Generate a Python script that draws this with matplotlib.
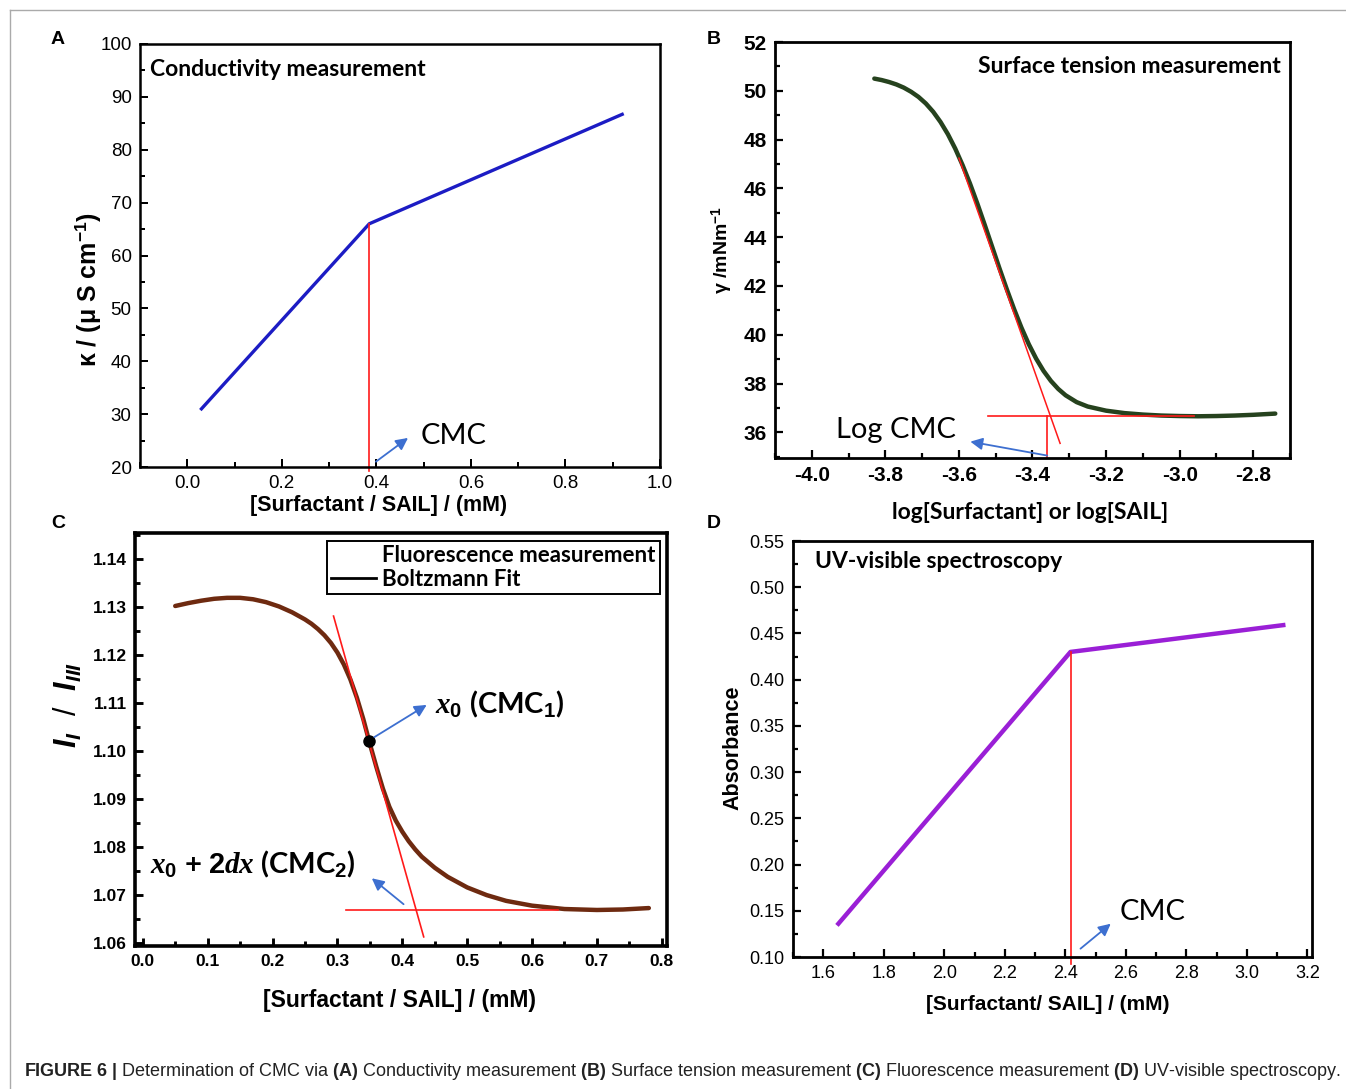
import matplotlib
matplotlib.use('Agg')
import matplotlib.pyplot as plt
from matplotlib.lines import Line2D
from matplotlib.ticker import MultipleLocator

plt.rcParams['font.family'] = ['Liberation Sans', 'DejaVu Sans']
plt.rcParams['axes.unicode_minus'] = False
plt.rcParams['mathtext.fontset'] = 'custom'
plt.rcParams['mathtext.rm'] = 'Liberation Sans:bold'
plt.rcParams['mathtext.bf'] = 'Liberation Sans:bold'
plt.rcParams['mathtext.it'] = 'Liberation Serif:italic:bold'
plt.rcParams['mathtext.sf'] = 'Liberation Sans:italic:bold'

# ---- data ----
# (A) conductivity
cond_conc = [0.03, 0.385, 0.92]
cond_kappa = [31.0, 66.0, 86.7]
cond_cmc = 0.385

# (B) surface tension
st_logc = [-3.83, -3.81, -3.79, -3.77, -3.75, -3.73, -3.71, -3.69, -3.67, -3.65,
           -3.63, -3.61, -3.59, -3.57, -3.55, -3.53, -3.51, -3.49, -3.47, -3.45,
           -3.43, -3.41, -3.39, -3.37, -3.35, -3.33, -3.31, -3.28, -3.25, -3.20,
           -3.15, -3.10, -3.05, -3.00, -2.95, -2.90, -2.85, -2.80, -2.74]
st_gamma = [50.50, 50.44, 50.36, 50.26, 50.13, 49.96, 49.75, 49.48, 49.14, 48.72,
            48.22, 47.63, 46.95, 46.20, 45.38, 44.51, 43.62, 42.73, 41.87, 41.05,
            40.29, 39.61, 39.02, 38.52, 38.11, 37.78, 37.52, 37.24, 37.06, 36.89,
            36.79, 36.73, 36.69, 36.67, 36.66, 36.67, 36.69, 36.72, 36.77]
st_tangent_x = [-3.60, -3.325]
st_tangent_y = [47.24, 35.55]
st_base_x = [-3.52, -2.96]
st_base_y = [36.67, 36.67]
st_logcmc = -3.36

# (C) fluorescence, I1/I3 with Boltzmann fit
fl_conc = [0.05, 0.07, 0.09, 0.11, 0.13, 0.15, 0.17, 0.19, 0.21, 0.23,
           0.25, 0.26, 0.27, 0.28, 0.29, 0.30, 0.31, 0.32, 0.33, 0.34,
           0.35, 0.36, 0.37, 0.38, 0.39, 0.40, 0.41, 0.42, 0.43, 0.45,
           0.47, 0.50, 0.53, 0.56, 0.60, 0.65, 0.70, 0.74, 0.78]
fl_ratio = [1.1302, 1.1308, 1.1313, 1.1317, 1.1319, 1.1319, 1.1316, 1.1310, 1.1301, 1.1289,
            1.1274, 1.1265, 1.1254, 1.1241, 1.1225, 1.1205, 1.1180, 1.1149, 1.1111, 1.1066,
            1.1015, 1.0967, 1.0922, 1.0884, 1.0855, 1.0832, 1.0812, 1.0795, 1.0780, 1.0757,
            1.0738, 1.0716, 1.0700, 1.0688, 1.0678, 1.0671, 1.0669, 1.0670, 1.0673]
fl_tangent_x = [0.294, 0.433]
fl_tangent_y = [1.1281, 1.0613]
fl_base_x = [0.313, 0.64]
fl_base_y = [1.0669, 1.0669]
fl_x0 = 0.348
fl_x0_ratio = 1.1020

# (D) UV-vis absorbance
uv_conc = [1.65, 2.417, 3.12]
uv_abs = [0.136, 0.430, 0.459]
uv_cmc = 2.417

RED = '#ff1a1a'
ARROW = '#3d6fd0'
W, H = 1346, 1089

fig = plt.figure(figsize=(W / 100, H / 100), dpi=100)


def px_axes(l, t, r, b):
    return fig.add_axes([l / W, 1 - b / H, (r - l) / W, (b - t) / H])


def style(ax, spine_w, tsize, tweight):
    for s in ax.spines.values():
        s.set_linewidth(spine_w)
    ax.tick_params(which='both', direction='in', top=False, right=False,
                   width=spine_w * 0.8, labelsize=tsize, pad=6)
    ax.tick_params(which='major', length=6)
    ax.tick_params(which='minor', length=3.5)
    for lab in ax.get_xticklabels() + ax.get_yticklabels():
        lab.set_fontweight(tweight)


def place_labels(ax, xpos, ypos):
    # label centres given in axes fraction
    ax.xaxis.set_label_coords(*xpos)
    ax.yaxis.set_label_coords(*ypos)
    ax.xaxis.label.set_va('center')
    ax.yaxis.label.set_va('center')


def arrow(ax, tail, head):
    ax.annotate('', xy=head, xytext=tail,
                arrowprops=dict(arrowstyle='-|>', color=ARROW, lw=1.3,
                                mutation_scale=18, shrinkA=0, shrinkB=0))


# ---------------- A ----------------
axA = px_axes(140, 44, 660, 467)
axA.plot(cond_conc, cond_kappa, color='#1c1cc4', lw=2.4)
axA.plot([cond_cmc, cond_cmc], [19.3, cond_kappa[1]], color=RED, lw=1.2, clip_on=False)
axA.set_xlim(-0.1, 1.0)
axA.set_ylim(20, 100)
axA.xaxis.set_major_locator(MultipleLocator(0.2))
axA.xaxis.set_minor_locator(MultipleLocator(0.1))
axA.yaxis.set_major_locator(MultipleLocator(10))
axA.yaxis.set_minor_locator(MultipleLocator(5))
axA.set_xticks([0.0, 0.2, 0.4, 0.6, 0.8, 1.0])
style(axA, 1.8, 13.5, 'normal')
arrow(axA, (0.399, 21.0), (0.467, 25.5))
axA.text(0.494, 25.9, 'CMC', fontfamily='Lato', fontsize=21, va='center')
axA.text(0.02, 0.94, 'Conductivity measurement', transform=axA.transAxes,
         fontfamily='Lato', fontweight='bold', fontsize=16.5, va='center')
axA.set_xlabel('[Surfactant / SAIL] / (mM)', fontsize=15.5, fontweight='bold')
axA.set_ylabel('κ / (μ S cm$^{-1}$)', fontsize=18, fontweight='bold')
place_labels(axA, (0.458, -0.092), (-0.10, 0.42))

# ---------------- B ----------------
axB = px_axes(775, 42, 1290, 458)
axB.plot(st_logc, st_gamma, color='#26421e', lw=3.2, solid_capstyle='round')
axB.plot(st_tangent_x, st_tangent_y, color=RED, lw=1.1)
axB.plot(st_base_x, st_base_y, color=RED, lw=1.2)
axB.plot([st_logcmc, st_logcmc], [35.0, st_base_y[0]], color=RED, lw=1.2)
axB.set_xlim(-4.1, -2.7)
axB.set_ylim(34.95, 52)
axB.xaxis.set_major_locator(MultipleLocator(0.2))
axB.xaxis.set_minor_locator(MultipleLocator(0.1))
axB.yaxis.set_major_locator(MultipleLocator(2))
axB.yaxis.set_minor_locator(MultipleLocator(1))
axB.set_xticks([-4.0, -3.8, -3.6, -3.4, -3.2, -3.0, -2.8])
axB.set_yticks([36, 38, 40, 42, 44, 46, 48, 50, 52])
style(axB, 2.0, 15, 'bold')
arrow(axB, (-3.36, 35.05), (-3.569, 35.62))
axB.text(-3.935, 36.1, 'Log CMC', fontfamily='Lato', fontsize=21, va='center')
axB.text(0.982, 0.94, 'Surface tension measurement', transform=axB.transAxes,
         fontfamily='Lato', fontweight='bold', fontsize=16.5, va='center', ha='right')
axB.set_xlabel('log[Surfactant] or log[SAIL]', fontfamily='Lato', fontsize=16.5, fontweight='bold')
axB.set_ylabel('γ /mNm$^{-1}$', fontsize=14, fontweight='bold')
place_labels(axB, (0.495, -0.13), (-0.103, 0.5))

# ---------------- C ----------------
axC = px_axes(135, 533, 667, 946)
axC.plot(fl_conc, fl_ratio, color='#6e2a10', lw=3.2, solid_capstyle='round')
axC.plot(fl_tangent_x, fl_tangent_y, color=RED, lw=1.2)
axC.plot(fl_base_x, fl_base_y, color=RED, lw=1.2)
axC.plot([fl_x0], [fl_x0_ratio], 'o', color='black', ms=8)
axC.set_xlim(-0.012, 0.808)
axC.set_ylim(1.0594, 1.1454)
axC.xaxis.set_major_locator(MultipleLocator(0.1))
axC.xaxis.set_minor_locator(MultipleLocator(0.05))
axC.yaxis.set_major_locator(MultipleLocator(0.01))
axC.yaxis.set_minor_locator(MultipleLocator(0.005))
axC.set_xticks([0.0, 0.1, 0.2, 0.3, 0.4, 0.5, 0.6, 0.7, 0.8])
axC.set_xticklabels(['0.0', '0.1', '0.2', '0.3', '0.4', '0.5', '0.6', '0.7', '0.8'])
axC.set_yticks([1.06, 1.07, 1.08, 1.09, 1.10, 1.11, 1.12, 1.13, 1.14])
axC.set_yticklabels(['1.06', '1.07', '1.08', '1.09', '1.10', '1.11', '1.12', '1.13', '1.14'])
style(axC, 2.6, 12.5, 'bold')
arrow(axC, (0.357, 1.1029), (0.4376, 1.1096))
arrow(axC, (0.402, 1.0681), (0.353, 1.0735))
axC.text(0.45, 1.1096, r'$\mathit{x_0}$ (CMC$_1$)', fontfamily='Lato', fontweight='bold',
         fontsize=21, va='center')
axC.text(0.011, 1.0764, r'$\mathit{x_0}$ + $\mathit{2dx}$ (CMC$_2$)', fontfamily='Lato',
         fontweight='bold', fontsize=21, va='center')
handles = [Line2D([], [], color='none'), Line2D([], [], color='black', lw=2)]
leg = axC.legend(handles, ['Fluorescence measurement', 'Boltzmann Fit'],
                 loc='upper right', bbox_to_anchor=(0.987, 0.981), borderaxespad=0,
                 fancybox=False, framealpha=1, edgecolor='black',
                 prop={'family': 'Lato', 'weight': 'bold', 'size': 16},
                 handlelength=2.0, handletextpad=0.3, borderpad=0.2, labelspacing=0.1)
leg.get_frame().set_linewidth(1.4)
axC.set_xlabel('[Surfactant / SAIL] / (mM)', fontsize=16.5, fontweight='bold')
axC.set_ylabel(r'$\mathsf{I_I}$  /  $\mathsf{I_{III}}$', fontsize=22)
place_labels(axC, (0.498, -0.131), (-0.126, 0.584))

# ---------------- D ----------------
axD = px_axes(793, 541, 1312, 957)
axD.plot(uv_conc, uv_abs, color='#9a1fd6', lw=3.2)
axD.plot([uv_cmc, uv_cmc], [0.092, uv_abs[1]], color=RED, lw=1.2, clip_on=False)
axD.set_xlim(1.5, 3.215)
axD.set_ylim(0.10, 0.55)
axD.xaxis.set_major_locator(MultipleLocator(0.2))
axD.xaxis.set_minor_locator(MultipleLocator(0.1))
axD.yaxis.set_major_locator(MultipleLocator(0.05))
axD.yaxis.set_minor_locator(MultipleLocator(0.025))
axD.set_xticks([1.6, 1.8, 2.0, 2.2, 2.4, 2.6, 2.8, 3.0, 3.2])
axD.set_yticks([0.10, 0.15, 0.20, 0.25, 0.30, 0.35, 0.40, 0.45, 0.50, 0.55])
axD.set_yticklabels(['0.10', '0.15', '0.20', '0.25', '0.30', '0.35', '0.40', '0.45', '0.50', '0.55'])
style(axD, 2.0, 13, 'normal')
arrow(axD, (2.45, 0.109), (2.55, 0.136))
axD.text(2.58, 0.149, 'CMC', fontfamily='Lato', fontsize=21, va='center')
axD.text(0.042, 0.95, 'UV-visible spectroscopy', transform=axD.transAxes,
         fontfamily='Lato', fontweight='bold', fontsize=16.5, va='center')
axD.set_xlabel('[Surfactant/ SAIL] / (mM)', fontsize=15, fontweight='bold')
axD.set_ylabel('Absorbance', fontsize=15.5, fontweight='bold')
place_labels(axD, (0.491, -0.113), (-0.116, 0.502))

# panel letters
for letter, x, y in [('A', 58, 40), ('B', 714, 40), ('C', 58, 523), ('D', 714, 523)]:
    fig.text(x / W, 1 - y / H, letter, fontsize=14, fontweight='bold', ha='center', va='center')

# frame around the figure
fig.add_artist(Line2D([10 / W, 10 / W], [0, 1 - 10 / H], color='#aaaaaa', lw=1, transform=fig.transFigure))
fig.add_artist(Line2D([10 / W, 1], [1 - 10 / H, 1 - 10 / H], color='#aaaaaa', lw=1, transform=fig.transFigure))

# caption, scaled to span the same width as the original
caption = (r'$\mathbf{FIGURE\ 6\ |}$ Determination of CMC via $\mathbf{(A)}$ Conductivity measurement '
           r'$\mathbf{(B)}$ Surface tension measurement $\mathbf{(C)}$ Fluorescence measurement '
           r'$\mathbf{(D)}$ UV-visible spectroscopy.')
cap = fig.text(24 / W, 1 - 1071 / H, caption, fontsize=12, color='#222222', va='center')
renderer = fig.canvas.get_renderer()
w = cap.get_window_extent(renderer).width
cap.set_fontsize(12 * 1313 / w)

fig.savefig('out.png', dpi=100)
